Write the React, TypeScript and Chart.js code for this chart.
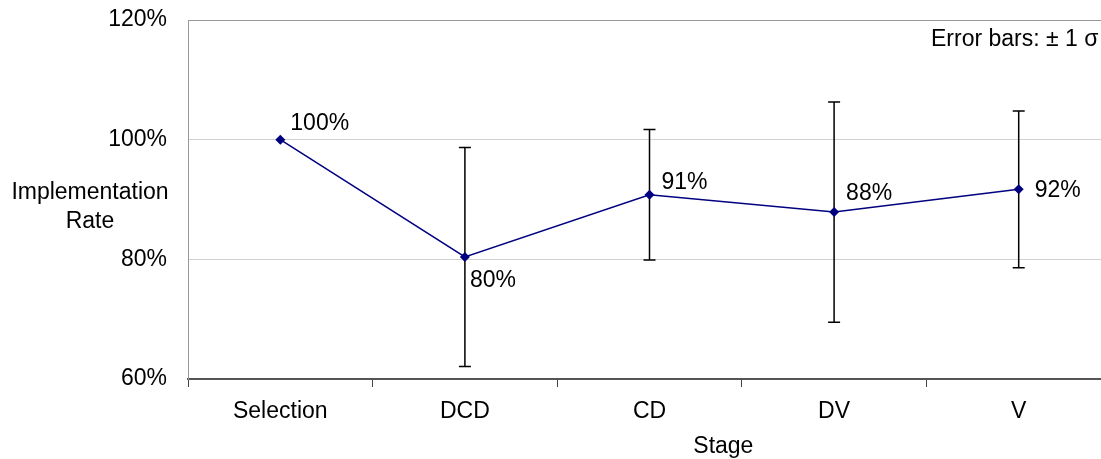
import React, { useEffect, useRef } from "react";
import { Chart, registerables } from "chart.js";

Chart.register(...registerables);

const categories = ["Selection", "DCD", "CD", "DV", "V"];
const rates = [100, 80.4, 90.8, 87.9, 91.7];
const sigmas = [0, 18.3, 10.9, 18.4, 13.1];
const pointLabels = ["100%", "80%", "91%", "88%", "92%"];
const yTicks = [60, 80, 100, 120];
const labelOffsets: [number, number][] = [
  [10, -10],
  [5, 30],
  [12, -6],
  [12, -12],
  [16, 8],
];

const FONT = "'Liberation Sans', Arial, sans-serif";
const FS = 23;

const overlay = {
  id: "overlay",
  beforeDatasetsDraw(chart: any) {
    const ctx = chart.ctx;
    const xs = chart.scales.x;
    const ys = chart.scales.y;
    ctx.save();
    ctx.strokeStyle = "#000";
    ctx.lineWidth = 1.5;
    rates.forEach((v, i) => {
      const e = sigmas[i];
      if (!e) return;
      const x = xs.getPixelForValue(i);
      const y1 = ys.getPixelForValue(v + e);
      const y2 = ys.getPixelForValue(v - e);
      ctx.beginPath();
      ctx.moveTo(x, y1);
      ctx.lineTo(x, y2);
      ctx.moveTo(x - 6, y1);
      ctx.lineTo(x + 6, y1);
      ctx.moveTo(x - 6, y2);
      ctx.lineTo(x + 6, y2);
      ctx.stroke();
    });
    ctx.restore();
  },
  afterDatasetsDraw(chart: any) {
    const ctx = chart.ctx;
    const xs = chart.scales.x;
    const ys = chart.scales.y;
    const ca = chart.chartArea;
    ctx.save();
    ctx.fillStyle = "#000";
    ctx.font = `${FS}px ${FONT}`;
    ctx.textBaseline = "alphabetic";
    ctx.textAlign = "left";
    rates.forEach((v, i) => {
      const x = xs.getPixelForValue(i);
      const y = ys.getPixelForValue(v);
      const [dx, dy] = labelOffsets[i];
      ctx.fillText(pointLabels[i], x + dx, y + dy);
    });
    // error bar note
    ctx.fillText("Error bars: \u00b1 1 \u03c3", ca.left + 743, ca.top + 26);
    // y-axis title (horizontal, two lines)
    ctx.textAlign = "center";
    const mid = (ca.top + ca.bottom) / 2;
    ctx.fillText("Implementation", 90, mid - 1);
    ctx.fillText("Rate", 90, mid + 28.5);
    // x-axis title
    ctx.fillText("Stage", ca.left + (ca.right - ca.left) * 0.58, chart.height - 6);
    ctx.restore();
  },
};

export default function App() {
  const ref = useRef<HTMLCanvasElement | null>(null);
  useEffect(() => {
    if (!ref.current) return;
    const chart = new Chart(ref.current, {
      type: "line",
      data: {
        labels: categories,
        datasets: [
          {
            data: rates,
            borderColor: "#000080",
            backgroundColor: "#000080",
            borderWidth: 1.5,
            pointStyle: "rectRot",
            pointRadius: 5,
            pointBorderWidth: 0,
            tension: 0,
          },
        ],
      },
      options: {
        animation: false,
        responsive: true,
        maintainAspectRatio: false,
        layout: { padding: { top: 20, right: 10, left: 0, bottom: 0 } },
        plugins: { legend: { display: false }, tooltip: { enabled: false } },
        scales: {
          x: {
            type: "category",
            offset: true,
            grid: {
              offset: true,
              drawOnChartArea: false,
              drawTicks: true,
              tickLength: 8,
              color: "#444",
              lineWidth: 1,
            },
            border: { color: "#555", width: 2 },
            ticks: {
              color: "#000",
              font: { family: FONT, size: FS },
              padding: 11,
              maxRotation: 0,
            },
            afterFit(scale: any) {
              scale.height = 80;
              scale.paddingLeft = 0;
              scale.paddingRight = 0;
            },
          },
          y: {
            min: 60,
            max: 120,
            afterBuildTicks(scale: any) {
              scale.ticks = yTicks.map((v) => ({ value: v }));
            },
            grid: {
              drawTicks: false,
              color: (c: any) =>
                c.tick && c.tick.value === 120
                  ? "#999"
                  : c.tick && c.tick.value === 60
                  ? "rgba(0,0,0,0)"
                  : "#d0d0d0",
              lineWidth: 1,
            },
            border: { color: "#999", width: 1 },
            ticks: {
              color: "#000",
              font: { family: FONT, size: FS },
              padding: 21,
              callback: (v: any) => `${v}%`,
            },
            afterFit(scale: any) {
              scale.width = 188;
              scale.paddingTop = 0;
              scale.paddingBottom = 0;
            },
          },
        },
      },
      plugins: [overlay],
    });
    return () => chart.destroy();
  }, []);
  return (
    <div
      style={{
        position: "fixed",
        left: 0,
        top: 0,
        width: 1101,
        height: 459,
        overflow: "hidden",
        background: "#fff",
      }}
    >
      <div style={{ position: "relative", width: 1121, height: 459 }}>
        <canvas ref={ref} />
      </div>
    </div>
  );
}
